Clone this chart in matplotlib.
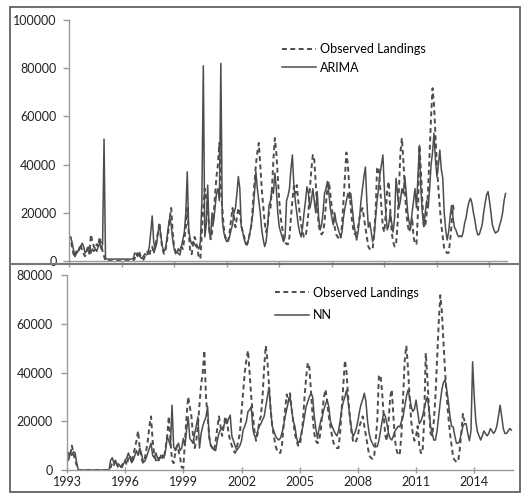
import numpy as np
import matplotlib
matplotlib.use("Agg")
import matplotlib.pyplot as plt
from matplotlib.lines import Line2D
from matplotlib.patches import Rectangle

plt.rcParams['font.family'] = ['Lato', 'DejaVu Sans']

# month index: 0 = Jan 1993
obs_start = -18     # Jul 1991
arima_start = -18
nn_start = 0

# observed landings, monthly, Jul 1991 .. Jul 2013
observed = [
    9000, 10000, 6000, 3000, 2000, 4000,                                          # 1991
    3000, 5000, 7000, 4000, 3000, 2000, 4000, 6000, 3000, 11000, 8000, 6000,      # 1992
    5000, 7000, 6000, 10000, 7000, 4000, 2000, 0, 0, 0, 0, 0,                     # 1993
    0, 0, 0, 0, 0, 0, 0, 0, 0, 0, 0, 0,                                           # 1994
    0, 0, 0, 1000, 3000, 2000, 4000, 2000, 1000, 500, 2000, 3000,                 # 1995
    4000, 2000, 5000, 6000, 3000, 6000, 9000, 12000, 16000, 9000, 5000, 3000,     # 1996
    4000, 8000, 12000, 18000, 22000, 12000, 6000, 4000, 3000, 5000, 4000, 6000,   # 1997
    5000, 9000, 14000, 22000, 12000, 4000, 2800, 7000, 10000, 8000, 5000, 1000,   # 1998
    1000, 12000, 22000, 30000, 26000, 22000, 14000, 9000, 12000, 18000, 27000, 35000,  # 1999
    40000, 49000, 30000, 22000, 14000, 10000, 9000, 8000, 12000, 17000, 22000, 18000,  # 2000
    14000, 18000, 22000, 20000, 15000, 12000, 10000, 8000, 7000, 9000, 12000, 15000,   # 2001
    24000, 32000, 40000, 45000, 49000, 40000, 30000, 23000, 16000, 12000, 15000, 20000,  # 2002
    22000, 30000, 42000, 51000, 45000, 35000, 25000, 18000, 14000, 10000, 8000, 7000,  # 2003
    7000, 10000, 18000, 25000, 31000, 28000, 31500, 25000, 20000, 15000, 12000, 10000,  # 2004
    10000, 14000, 20000, 30000, 38000, 44000, 42000, 32000, 22000, 15000, 12000, 11000,  # 2005
    12000, 16000, 24000, 30000, 33000, 28000, 22000, 18000, 14000, 11000, 10000, 9000,  # 2006
    9000, 15000, 25000, 35000, 45000, 40000, 30000, 22000, 16000, 12000, 11000, 12000,  # 2007
    14000, 18000, 20000, 22000, 18000, 14000, 10000, 6000, 5000, 4600, 5000, 12000,     # 2008
    20000, 38500, 39000, 32000, 22000, 14000, 12000, 20000, 30000, 33000, 22000, 12000,  # 2009
    8000, 6000, 7000, 15000, 30000, 45000, 51000, 42000, 30000, 20000, 15000, 12000,     # 2010
    14000, 18000, 10000, 7000, 7000, 20000, 48000, 38000, 25000, 15000, 14000, 20000,    # 2011
    30000, 45000, 60000, 71700, 65000, 52000, 40000, 30000, 22000, 15000, 10000, 5000,   # 2012
    4000, 3300, 3400, 8000, 15000, 23000, 20000,                                          # 2013
]

# ARIMA fitted + forecast, monthly, Jul 1991 .. Jun 2016
arima = [
    9000, 10000, 8000, 5000, 1800, 3000,                                           # 1991
    4000, 5000, 6000, 7400, 6000, 3300, 4000, 5000, 6000, 3300, 5000, 4000,        # 1992
    5000, 4000, 6000, 7400, 5000, 7000, 50600, 1000, 800, 800, 800, 800,           # 1993
    800, 800, 800, 800, 800, 800, 800, 800, 800, 800, 800, 800,                    # 1994
    800, 800, 1000, 3300, 3000, 3300, 2500, 1500, 1000, 2000, 3000, 2500,          # 1995
    3000, 6000, 12000, 18700, 8000, 5000, 7000, 12000, 15000, 10000, 6000, 4000,   # 1996
    5000, 9000, 14000, 18000, 15000, 9000, 5000, 3000, 4000, 3000, 2500, 6000,     # 1997
    9000, 12000, 20000, 37000, 12900, 9000, 7000, 8000, 7000, 6000, 6000, 5000,    # 1998
    8000, 25000, 81000, 10000, 15000, 31500, 12000, 10000, 20000, 16000, 22000, 28000,  # 1999
    30000, 25000, 82000, 17000, 12000, 9500, 8000, 8700, 10000, 12900, 15000, 20000,    # 2000
    22000, 28000, 35000, 30000, 14200, 12000, 9000, 7000, 6600, 9000, 12000, 15800,     # 2001
    20000, 28000, 37000, 30000, 25000, 20000, 12900, 9000, 6000, 8000, 14000, 23000,    # 2002
    25000, 30000, 28000, 36500, 30000, 20000, 14200, 12000, 10000, 8000, 10000, 25000,  # 2003
    27000, 30000, 38000, 44000, 31500, 25000, 20000, 15000, 12000, 10000, 14000, 20000,  # 2004
    25000, 30800, 28000, 22000, 25000, 30000, 25000, 20000, 28800, 18000, 12900, 15000,  # 2005
    20000, 28000, 30000, 33000, 28000, 22000, 18000, 15000, 20000, 16000, 14200, 12000,  # 2006
    10000, 12000, 18000, 22000, 25000, 28000, 26000, 28000, 22000, 16000, 12000, 8700,   # 2007
    12000, 18000, 25000, 30000, 35000, 39000, 25000, 14000, 16000, 12000, 8000, 10000,   # 2008
    18000, 25000, 30000, 36000, 40000, 44000, 30000, 20000, 12900, 15000, 20000, 16000,  # 2009
    12000, 18000, 34300, 28000, 22000, 25000, 30000, 28000, 35000, 28000, 20000, 16000,  # 2010
    14000, 20000, 25000, 30000, 22000, 35000, 48000, 30000, 20000, 14200, 20000, 25000,  # 2011
    22000, 30000, 40000, 45000, 53000, 42000, 35000, 40000, 46000, 38000, 34400, 20000,  # 2012
    13000, 8700, 12000, 18000, 23000, 18000, 14000, 12900, 11000, 10000, 10500, 10000,   # 2013
    12000, 15800, 18000, 22000, 24600, 26000, 24000, 20000, 17000, 13000, 10800, 11000,  # 2014
    13000, 15000, 20000, 24000, 27400, 28800, 25000, 20000, 15000, 13000, 11600, 12000,  # 2015
    12500, 15000, 17000, 20000, 25000, 28000,                                             # 2016
]

# NN fitted + forecast, monthly, Jan 1993 .. Dec 2015
nn = [
    6000, 4000, 7000, 6000, 7500, 7000, 3000, 0, 0, 0, 0, 0,                        # 1993
    0, 0, 0, 0, 0, 0, 0, 0, 0, 0, 0, 0,                                             # 1994
    0, 0, 0, 4000, 5000, 3000, 4000, 2000, 2500, 1500, 1000, 2500,                  # 1995
    4000, 5000, 7000, 5000, 3000, 4000, 6000, 8000, 6000, 9000, 7000, 4000,         # 1996
    3400, 5000, 7000, 9000, 11000, 6000, 5000, 7000, 5000, 4000, 6000, 5000,        # 1997
    5000, 8000, 13700, 12000, 10000, 26600, 9600, 8000, 9600, 11000, 8000, 9000,    # 1998
    13000, 10000, 16400, 21800, 13000, 12000, 11000, 15000, 18000, 21800, 9000, 15000,  # 1999
    18000, 20000, 21800, 26000, 13000, 10000, 9000, 8200, 8000, 12000, 15000, 16400,    # 2000
    17000, 18000, 20000, 19000, 21000, 22500, 14000, 12000, 10000, 8000, 9000, 10000,   # 2001
    12000, 16400, 18000, 20000, 24000, 24600, 26000, 17000, 14000, 13700, 16000, 18000,  # 2002
    19000, 20500, 22000, 26000, 30000, 34000, 25000, 18000, 16000, 14000, 13000, 12300,  # 2003
    13000, 15000, 18000, 22000, 25000, 28000, 30000, 25000, 20000, 18000, 13500, 11000,  # 2004
    12000, 15000, 18000, 22000, 26000, 28000, 30000, 31500, 30000, 22000, 17000, 13000,  # 2005
    17000, 20000, 22000, 25000, 27000, 28700, 26000, 20000, 18000, 16400, 15000, 14000,  # 2006
    16000, 20000, 25000, 28000, 30000, 32800, 28000, 22000, 17000, 13700, 15000, 17000,  # 2007
    20000, 24000, 27000, 29000, 31500, 28000, 20000, 15000, 12300, 11000, 9600, 9600,    # 2008
    9600, 12000, 16000, 20000, 23300, 22000, 19000, 15000, 13000, 12300, 14000, 16000,   # 2009
    17000, 18000, 17700, 20000, 22000, 26000, 30000, 32800, 30000, 26000, 24000, 25000,  # 2010
    28700, 24000, 19000, 20000, 22000, 25000, 28000, 30000, 25000, 18000, 15000, 12300,  # 2011
    12300, 16000, 22000, 28000, 33000, 36000, 37000, 33000, 28000, 22000, 18000, 17700,  # 2012
    14000, 11000, 11000, 12000, 15000, 18000, 19000, 19000, 15000, 12000, 16000, 44400,  # 2013
    30000, 20000, 15700, 14000, 12300, 14000, 16000, 15000, 14000, 15000, 17000, 16000,  # 2014
    15000, 16000, 18000, 22000, 26600, 22000, 17000, 15000, 15000, 16000, 17000, 16400,  # 2015
]

year_labels = ['1993', '1996', '1999', '2002', '2005', '2008', '2011', '2014']

x_obs = np.arange(len(observed)) + obs_start
x_arima = np.arange(len(arima)) + arima_start
x_nn = np.arange(len(nn)) + nn_start

line_col = '#4d4d4d'
axis_col = '#9a9a9a'

fig = plt.figure(figsize=(5.30, 4.95), dpi=100)

def style_axes(ax):
    for s in ['top', 'right']:
        ax.spines[s].set_visible(False)
    for s in ['left', 'bottom']:
        ax.spines[s].set_color(axis_col)
        ax.spines[s].set_linewidth(1.0)
    ax.tick_params(colors=axis_col, labelcolor='#222222', labelsize=9, length=4, width=1.0)

# top panel: ARIMA
ax1 = fig.add_axes([69/530, 1 - 261/495, 438/530, 241/495])
ax1.plot(x_obs, observed, color=line_col, lw=1.4, ls=(0, (2.5, 1.8)), label='Observed Landings')
ax1.plot(x_arima, arima, color=line_col, lw=1.1, label='ARIMA')
ax1.set_xlim(-18, 282)
ax1.set_ylim(0, 100000)
ax1.set_yticks(np.arange(0, 100001, 20000))
ax1.set_xticks(np.arange(-18, 282, 36))
ax1.set_xticklabels([])
style_axes(ax1)
ax1.tick_params(axis='y', pad=5)
ax1.legend(loc='upper left', bbox_to_anchor=(0.486, 0.905), frameon=False, borderpad=0,
           borderaxespad=0, handlelength=2.7, handletextpad=0.35, labelspacing=0.55, fontsize=9)

# bottom panel: NN
ax2 = fig.add_axes([67/530, 1 - 470/495, 446/530, 195/495])
ax2.plot(x_obs, observed, color=line_col, lw=1.4, ls=(0, (2.5, 1.8)), label='Observed Landings')
ax2.plot(x_nn, nn, color=line_col, lw=1.1, label='NN')
ax2.set_xlim(0, 276)
ax2.set_ylim(0, 80000)
ax2.set_yticks(np.arange(0, 80001, 20000))
ax2.set_xticks(np.arange(0, 253, 36))
ax2.set_xticklabels(year_labels)
style_axes(ax2)
ax2.tick_params(axis='y', pad=6)
ax2.tick_params(axis='x', direction='inout', pad=2)
ax2.legend(loc='upper left', bbox_to_anchor=(0.466, 0.94), frameon=False, borderpad=0,
           borderaxespad=0, handlelength=2.7, handletextpad=0.35, labelspacing=0.85, fontsize=9)

# outer frame and divider
fig.patches.append(Rectangle((10/530, 1 - 492/495), 510/530, 485/495, transform=fig.transFigure,
                             fill=False, edgecolor='#555555', lw=1.2))
fig.lines.append(Line2D([10/530, 520/530], [1 - 264/495, 1 - 264/495], transform=fig.transFigure,
                        color='#777777', lw=1.5))

fig.savefig('out.png', dpi=100)
